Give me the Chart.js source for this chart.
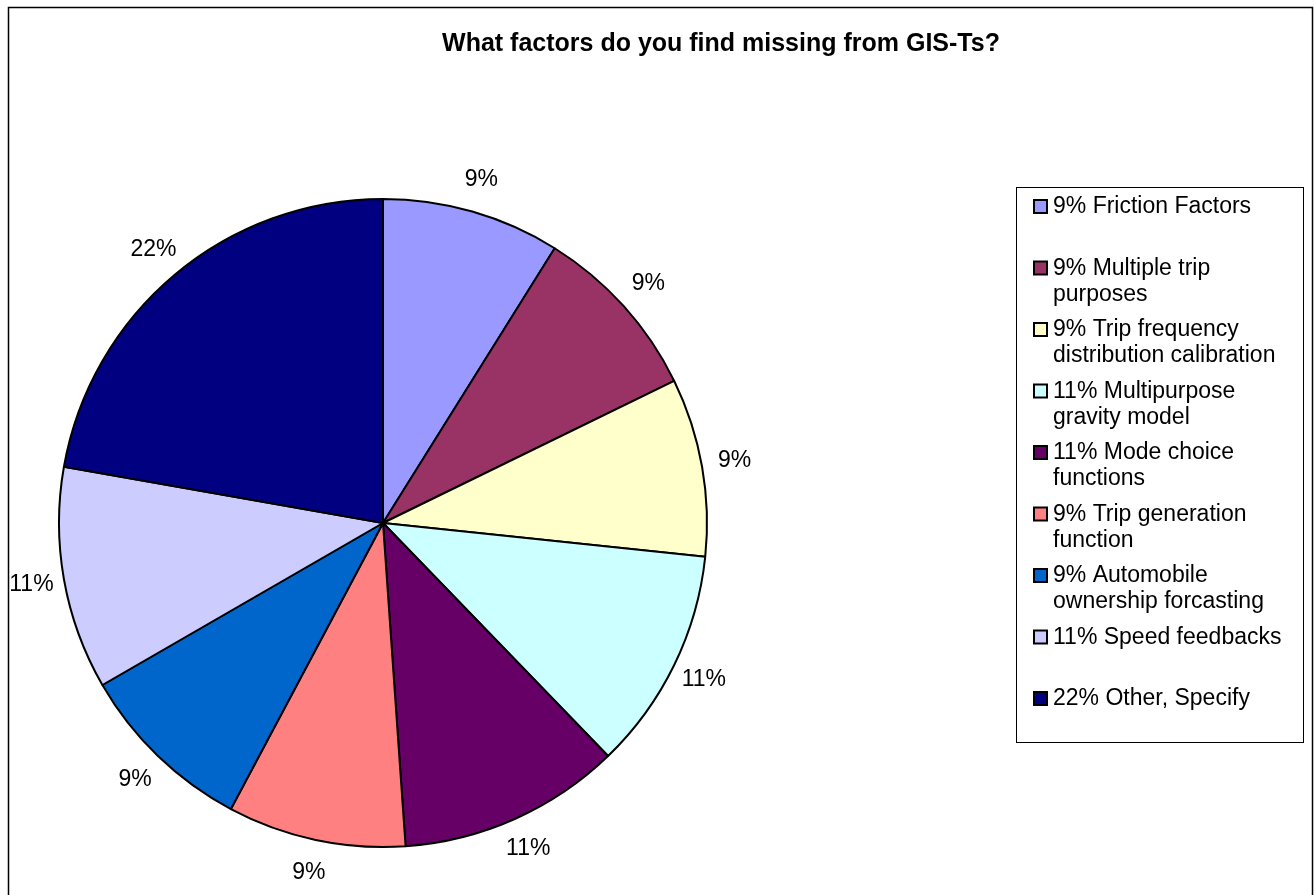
<!DOCTYPE html>
<html>
<head>
<meta charset="utf-8">
<title>What factors do you find missing from GIS-Ts?</title>
<script src="https://cdn.jsdelivr.net/npm/chart.js@4/dist/chart.umd.min.js"></script>
<style>
  html, body { margin: 0; padding: 0; background: #fff; }
  #wrap { position: relative; width: 1314px; height: 895px; }
</style>
</head>
<body>
<div id="wrap"><canvas id="pie"></canvas></div>
<script>
// data (responses, shown as percentages)
const categories = [
  'Friction Factors',
  'Multiple trip purposes',
  'Trip frequency distribution calibration',
  'Multipurpose gravity model',
  'Mode choice functions',
  'Trip generation function',
  'Automobile ownership forcasting',
  'Speed feedbacks',
  'Other, Specify'
];
const counts = [4, 4, 4, 5, 5, 4, 4, 5, 10];
const sliceColors = ['#9999FF', '#993366', '#FFFFCC', '#CCFFFF', '#660066', '#FF8080', '#0066CC', '#CCCCFF', '#000080'];
const chartTitle = 'What factors do you find missing from GIS-Ts?';

const FONT = '"Liberation Sans", Arial, sans-serif';
const total = counts.reduce((a, b) => a + b, 0);
const pctText = v => Math.round(v / total * 100) + '%';

// wrap legend text to a max width
function wrapText(ctx, text, maxW) {
  const words = text.split(' ');
  const lines = [];
  let cur = '';
  words.forEach(w => {
    const test = cur ? cur + ' ' + w : w;
    if (cur && ctx.measureText(test).width > maxW) {
      lines.push(cur);
      cur = w;
    } else {
      cur = test;
    }
  });
  if (cur) lines.push(cur);
  return lines;
}

// frame, title and legend box
const decorPlugin = {
  id: 'decor',
  beforeDraw(chart) {
    const ctx = chart.ctx;
    ctx.save();
    ctx.fillStyle = '#fff';
    ctx.fillRect(0, 0, chart.width, chart.height);
    ctx.strokeStyle = '#000';
    ctx.lineWidth = 1.5;
    ctx.strokeRect(8.5, 7.5, 1304, 900);
    ctx.fillStyle = '#000';
    ctx.font = 'bold 25px ' + FONT;
    ctx.textAlign = 'center';
    ctx.textBaseline = 'middle';
    ctx.fillText(chartTitle, 721, 44);
    ctx.restore();
  },
  afterDraw(chart) {
    const ctx = chart.ctx;
    ctx.save();
    ctx.strokeStyle = '#000';
    ctx.lineWidth = 1;
    ctx.strokeRect(1016.5, 187.5, 287, 555);
    ctx.font = '23px ' + FONT;
    ctx.textAlign = 'left';
    ctx.textBaseline = 'middle';
    categories.forEach((name, i) => {
      const y = 207 + i * 61.5;
      ctx.fillStyle = sliceColors[i];
      ctx.fillRect(1034, y - 7, 13, 13);
      ctx.lineWidth = 2;
      ctx.strokeStyle = '#000';
      ctx.strokeRect(1034, y - 7, 13, 13);
      ctx.fillStyle = '#000';
      const lines = wrapText(ctx, pctText(counts[i]) + ' ' + name, 242);
      lines.forEach((ln, k) => ctx.fillText(ln, 1053, y + k * 26));
    });
    ctx.restore();
  }
};

// percentage labels outside each slice
const labelPlugin = {
  id: 'outLabels',
  afterDatasetsDraw(chart) {
    const ctx = chart.ctx;
    const meta = chart.getDatasetMeta(0);
    ctx.save();
    ctx.fillStyle = '#000';
    ctx.font = '23px ' + FONT;
    ctx.textAlign = 'center';
    ctx.textBaseline = 'middle';
    meta.data.forEach((arc, i) => {
      const p = arc.getProps(['x', 'y', 'startAngle', 'endAngle', 'outerRadius'], true);
      const mid = (p.startAngle + p.endAngle) / 2;
      const r = p.outerRadius + 33;
      ctx.fillText(pctText(counts[i]), p.x + Math.cos(mid) * r, p.y + Math.sin(mid) * r);
    });
    ctx.restore();
  }
};

new Chart(document.getElementById('pie'), {
  type: 'pie',
  data: {
    labels: categories,
    datasets: [{
      data: counts,
      backgroundColor: sliceColors,
      borderColor: '#000',
      borderWidth: 2
    }]
  },
  options: {
    responsive: true,
    maintainAspectRatio: false,
    animation: false,
    layout: { padding: { left: 58, top: 198, right: 606, bottom: 47 } },
    plugins: {
      legend: { display: false },
      title: { display: false },
      tooltip: { enabled: false }
    }
  },
  plugins: [decorPlugin, labelPlugin]
});
</script>
</body>
</html>
